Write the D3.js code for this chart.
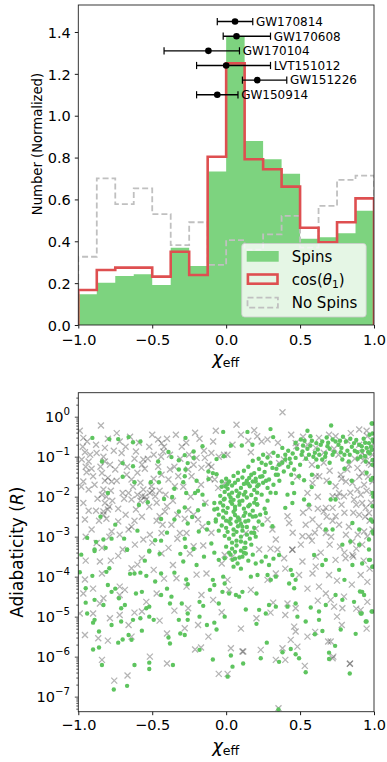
<!DOCTYPE html>
<html>
<head>
<meta charset="utf-8">
<script src="https://cdn.jsdelivr.net/npm/d3@7"></script>
<style>
body{margin:0;background:#fff}
text{font-family:"DejaVu Sans",sans-serif;fill:#000}
</style>
</head>
<body>
<div id="chart"></div>
<script>
// histogram of chi_eff (16 bins)
const binEdges=[-1,-0.875,-0.75,-0.625,-0.5,-0.375,-0.25,-0.125,0,0.125,0.25,0.375,0.5,0.625,0.75,0.875,1]
const spins=[0.147,0.202,0.234,0.242,0.191,0.369,0.282,0.733,1.381,0.879,0.792,0.723,0.412,0.419,0.438,0.546]
const cosTheta=[0.167,0.263,0.274,0.274,0.231,0.350,0.239,0.804,1.250,0.792,0.744,0.661,0.465,0.395,0.491,0.605]
const noSpins=[0.326,0.701,0.578,0.653,0.530,0.382,0.491,0.287,0.406,0.36,0.433,0.521,0.37,0.569,0.693,0.714]

// LIGO events
const events=["GW170814","GW170608","GW170104","LVT151012","GW151226","GW150914"]
const eventChi=[0.06,0.07,-0.12,0.00,0.21,-0.06]
const eventLo=[-0.06,-0.02,-0.42,-0.20,0.11,-0.20]
const eventHi=[0.18,0.30,0.09,0.30,0.41,0.08]
const eventY=[1.45,1.38,1.31,1.24,1.17,1.10]

const xTicks=[-1,-0.5,0,0.5,1]
const histTicks=[0,0.2,0.4,0.6,0.8,1.0,1.2,1.4]
const logTicks=[0,-1,-2,-3,-4,-5,-6,-7]

// scatter: [chi_eff, log10 R]
const spinPts=[
[-0.905,-0.53],[-0.79,-0.56],[-0.73,-0.56],[-0.66,-0.51],[-0.63,-0.64],[-0.58,-0.62],[-0.275,-0.53],[-0.02,-0.38],[-0.16,-0.74],[-0.39,-0.88],[-0.28,-0.96],[-0.22,-0.87],[-0.37,-1.01],[-0.22,-1.03],[-0.46,-1.12],[-0.32,-1.09],[-0.26,-1.16],[-0.84,-1.12],[-0.70,-1.16],[-0.63,-1.24],[-0.065,-1.06],[-0.016,-0.99],[-0.32,-1.32],[-0.275,-1.32],[-0.12,-1.37],[-0.09,-1.41],[-0.065,-1.44],[-0.28,-1.49],[-0.29,-1.64],[-0.62,-1.64],[-0.455,-1.64],[-0.51,-1.64],[-0.12,-1.56],[-0.03,-1.62],[-0.005,-1.74],[-0.80,-1.91],[-0.19,-1.85],[-0.21,-1.91],[-0.16,-1.95],[-0.27,-1.91],[-0.365,-2.01],[-0.42,-2.06],[-0.53,-2.14],[-0.59,-2.21],[-0.28,-2.27],[-0.32,-2.37],[-0.19,-2.34],[-0.08,-2.32],[-0.08,-2.16],[-0.016,-2.07],[-0.44,-2.56],[-0.35,-2.57],[-0.23,-2.51],[-0.12,-2.66],[-0.07,-2.57],[-0.26,-2.67],[-0.13,-2.82],[-0.185,-2.87],[-0.10,-3.17],[-0.94,-3.03],[-0.88,-3.13],[-0.83,-3.07],[-0.775,-3.05],[-0.69,-3.05],[-0.67,-3.32],[-0.89,-3.32],[-0.815,-3.28],[-0.48,-3.09],[-0.44,-3.10],[-0.28,-3.05],[-0.275,-3.26],[-0.52,-3.35],[-0.22,-3.31],
[0.144,-0.38],[0.30,-0.31],[0.55,-0.35],[0.71,-0.22],[0.99,-0.17],[0.032,-0.72],[0.106,-0.72],[0.178,-0.70],[0.318,-0.51],[0.38,-0.78],[0.505,-0.57],[0.57,-0.49],[0.61,-0.66],[0.65,-0.62],[0.685,-0.74],[0.72,-0.57],[0.76,-0.70],[0.81,-0.62],[0.865,-0.66],[0.917,-0.74],[0.966,-0.66],[0.99,-0.57],[0.674,-0.91],[0.72,-0.95],[0.775,-0.89],[0.836,-0.95],[0.888,-0.89],[0.94,-0.99],[0.971,-0.92],[0.56,-0.95],[0.61,-1.07],[0.516,-0.87],[0.47,-1.03],[0.437,-1.16],[0.40,-1.07],[0.358,-1.20],[0.313,-1.28],[0.268,-1.20],[0.223,-1.31],[0.19,-1.41],[0.336,-1.45],[0.39,-1.37],[0.46,-1.32],[0.493,-1.49],[0.527,-1.59],[0.448,-1.66],[0.579,-1.76],[0.29,-1.57],[0.245,-1.49],[0.156,-1.53],[0.133,-1.66],[0.21,-1.74],[0.28,-1.78],[0.336,-1.91],[0.415,-1.95],[0.46,-1.91],[0.448,-2.16],[0.40,-2.28],[0.527,-2.07],[0.56,-2.20],[0.707,-2.07],[0.74,-2.07],[0.674,-2.82],[0.72,-2.82],[0.854,-2.66],[0.9,-2.82],[0.966,-3.07],[0.786,-3.20],[0.84,-3.12],[0.9,-3.20],[0.966,-3.32],[0.122,-3.28],[0.19,-2.91],[0.245,-2.70],[0.20,-2.49],[0.268,-2.41],[0.313,-2.74],[0.21,-2.20],[0.65,-1.07],[0.786,-1.07],[0.944,-1.12],[0.99,-1.20],[0.99,-1.53],[0.99,-1.91],[0.99,-2.24],[0.978,-2.57],[0.99,-2.87],
[0.15,-1.25],[0.18,-1.10],[0.22,-1.05],[0.25,-0.95],[0.28,-1.02],[0.32,-0.90],[0.35,-0.98],[0.30,-1.15],[0.34,-1.30],[0.38,-1.15],[0.42,-0.85],[0.45,-0.92],[0.48,-0.80],[0.52,-0.72],[0.55,-0.80],[0.58,-0.60],[0.62,-0.82],[0.42,-1.25],[0.26,-1.38],[0.20,-1.62],[0.12,-1.35],[0.08,-1.40],[0.24,-1.15],[0.36,-1.60],[0.50,-1.20],[0.54,-1.05],[0.44,-1.45],
[0.63,-0.95],[0.70,-0.80],[0.74,-0.62],[0.78,-0.78],[0.82,-0.85],[0.85,-0.75],[0.88,-0.58],[0.92,-0.85],[0.95,-0.78],[0.97,-0.45],[0.79,-0.50],[0.68,-0.52],[0.60,-0.90],[0.89,-1.05],[0.83,-1.12],[0.93,-0.55],
[0.40,-0.95],[0.43,-1.05],[0.47,-0.65],[0.51,-0.95],[0.53,-0.6],[0.57,-0.72],[0.59,-1.0],[0.64,-0.7],[0.67,-1.0],[0.69,-0.65],[0.73,-0.88],[0.77,-0.6],[0.8,-0.95],[0.84,-0.55],[0.87,-0.85],[0.9,-0.7],[0.91,-1.0],[0.94,-0.65],[0.96,-0.88],[0.98,-0.75],[0.62,-1.25],[0.7,-1.15],[0.8,-1.3],[0.95,-1.4],[0.85,-1.6],[0.7,-1.65],[0.58,-1.45],
[-0.89,-3.36],[-0.67,-3.33],[-0.52,-3.37],[-0.45,-3.43],[-0.31,-3.43],[-0.29,-3.62],[-0.20,-3.71],[-0.08,-3.40],[-0.05,-3.58],[-0.01,-3.54],[-0.905,-3.98],[-0.99,-3.89],[-0.81,-3.88],[-0.79,-3.79],[-0.65,-3.93],[-0.62,-3.92],[-0.58,-3.90],[-0.54,-3.98],[-0.48,-4.12],[-0.44,-3.92],[-0.27,-4.07],[-0.26,-4.19],[-0.09,-4.08],[-0.02,-4.0],[-0.01,-4.17],[-0.08,-4.21],[-0.11,-4.33],[-0.025,-4.38],[-0.95,-4.29],[-0.80,-4.21],[-0.775,-4.38],[-0.61,-4.42],[-0.57,-4.38],[-0.44,-4.46],[-0.37,-4.50],[-0.95,-4.65],[-0.89,-4.58],[-0.83,-4.71],[-0.725,-4.54],[-0.71,-4.79],[-0.685,-4.71],[-0.54,-4.79],[-0.52,-4.75],[-0.38,-4.67],[-0.30,-4.67],[-0.18,-4.63],[-0.155,-4.73],[-0.05,-4.67],[-0.94,-4.92],[-0.89,-5.08],[-0.90,-5.15],[-0.775,-5.21],[-0.71,-5.12],[-0.63,-5.08],[-0.58,-5.04],[-0.52,-5.0],[-0.49,-5.08],[-0.32,-5.08],[-0.26,-4.92],[-0.26,-5.08],[-0.18,-5.0],[-0.13,-5.21],[-0.08,-5.15],[-0.065,-5.32],[-0.01,-5.0],[-0.86,-5.37],[-0.70,-5.57],[-0.66,-5.46],[-0.64,-5.58],[-0.57,-5.35],[-0.39,-5.52],[-0.38,-5.67],[-0.31,-5.42],[-0.28,-5.46],[-0.18,-5.83],[-0.73,-5.65],[-0.90,-5.82],[-0.86,-5.77],[-0.84,-6.21],[-0.62,-6.21],[-0.52,-6.31],[-0.52,-6.15],[-0.36,-6.21],[-0.09,-6.07],[-0.76,-6.82],[-0.67,-6.73],[0.01,-6.5],
[-0.98,-3.45],[-0.75,-2.7],[-0.6,-2.85],[-0.4,-2.9],[-0.35,-1.8],[-0.15,-2.2],[-0.05,-2.85],[-0.2,-1.6],[-0.45,-1.4],[-0.7,-1.5],[-0.85,-2.5],[-0.55,-3.6],[-0.35,-3.9],[-0.15,-3.5],[-0.75,-4.3],[-0.4,-4.3],
[0.043,-3.58],[0.077,-3.67],[0.11,-3.50],[0.133,-3.42],[0.20,-3.67],[0.268,-3.50],[0.29,-3.71],[0.358,-3.46],[0.437,-3.83],[0.448,-3.96],[0.47,-4.08],[0.426,-4.17],[0.46,-4.29],[0.595,-3.46],[0.65,-3.71],[0.674,-3.58],[0.764,-3.83],[0.80,-4.08],[0.854,-3.71],[0.92,-3.67],[0.966,-3.58],[0.99,-3.75],[0.167,-4.0],[0.212,-3.96],[0.28,-3.96],[0.302,-4.08],[0.336,-4.0],[0.02,-4.42],[0.066,-4.46],[0.088,-4.50],[0.11,-4.38],[0.205,-4.42],[0.133,-4.82],[0.223,-4.83],[0.268,-4.92],[0.29,-4.71],[0.336,-4.75],[0.415,-4.75],[0.47,-4.67],[0.572,-4.77],[0.628,-4.87],[0.674,-4.71],[0.74,-4.46],[0.786,-4.58],[0.865,-4.63],[0.92,-4.38],[0.933,-4.46],[0.99,-4.87],[0.91,-4.92],[0.205,-5.18],[0.482,-5.0],[0.538,-5.12],[0.628,-5.08],[0.651,-5.36],[0.60,-5.44],[0.775,-5.32],[0.876,-5.43],[0.944,-5.12],[0.275,-5.65],[0.437,-5.81],[0.47,-5.94],[0.493,-6.04],[0.381,-5.89],[0.234,-6.04],[0.032,-5.97],[0.043,-6.25],[0.115,-6.17],[0.358,-6.13],[0.538,-6.39],[0.696,-5.90],[0.696,-6.06],[0.737,-5.73],[0.836,-6.42],[0.354,-7.32],
[0.00,-1.55],[0.02,-1.62],[0.05,-1.48],[0.08,-1.58],[0.11,-1.52],[0.14,-1.60],[0.17,-1.45],[0.20,-1.55],[0.23,-1.50],[-0.03,-1.75],[0.01,-1.80],[0.04,-1.72],[0.07,-1.85],[0.10,-1.78],[0.13,-1.88],[0.16,-1.74],[0.19,-1.83],[0.22,-1.70],[-0.04,-1.98],[-0.01,-2.05],[0.02,-1.95],[0.05,-2.08],[0.08,-1.99],[0.11,-2.10],[0.14,-2.02],[0.17,-1.96],[0.20,-2.06],[-0.02,-2.22],[0.01,-2.28],[0.04,-2.18],[0.06,-2.32],[0.09,-2.20],[0.12,-2.30],[0.15,-2.24],[0.18,-2.35],[0.21,-2.19],[-0.05,-2.45],[-0.02,-2.52],[0.00,-2.40],[0.03,-2.55],[0.06,-2.46],[0.09,-2.58],[0.12,-2.48],[0.15,-2.60],[0.18,-2.50],[-0.03,-2.72],[0.00,-2.78],[0.03,-2.68],[0.05,-2.82],[0.08,-2.74],[0.11,-2.85],[0.14,-2.76],[0.17,-2.90],[-0.01,-2.98],[0.02,-3.05],[0.05,-2.95],[0.07,-3.10],[0.10,-3.00],[0.13,-3.15],[0.16,-3.05],[0.00,-3.25],[0.04,-3.30],[0.07,-3.22],[0.10,-3.35],[0.13,-3.28],[0.03,-3.45],[0.09,-3.52],[0.06,-1.65],[0.09,-1.92],[0.03,-2.12],[0.13,-2.40],[0.07,-2.62],[0.01,-2.88],[0.10,-2.68],[0.16,-2.20],[-0.06,-2.30],[0.24,-1.95],[0.26,-2.30],[0.22,-2.62],[0.25,-1.65],[0.19,-2.78],[-0.07,-2.62],[0.12,-1.68],[0.04,-1.90],
[0.01,-1.68],[0.03,-2.02],[0.06,-2.25],[0.08,-2.52],[0.11,-2.75],[0.14,-2.95],[0.02,-2.62],[0.05,-2.38],[0.09,-2.12],[0.12,-1.95],[0.15,-1.68],[0.18,-1.62],[0.21,-1.90],[0.19,-2.15],[0.16,-2.45],[0.13,-2.62],[0.10,-3.12],[0.04,-3.15],[-0.02,-2.35],[-0.04,-2.15],[-0.01,-1.88],[0.00,-2.6],[0.07,-2.88],[0.12,-3.4],[0.06,-3.38],[0.17,-3.2],[0.2,-3.0],[0.23,-2.45],[0.28,-2.1],[0.3,-1.9],[0.27,-1.6],[0.32,-1.7],[0.35,-1.45],
[0.02,-3.40],[0.06,-3.55],[0.15,-3.60],[0.18,-3.45],[0.24,-3.62],[0.32,-3.55],[0.10,-3.80],[0.05,-3.75],
[0.984,-0.17],[0.99,-0.42],[0.995,-0.62],[0.984,-0.83],[0.99,-1.08],[0.978,-1.58],[0.995,-2.0],[0.99,-2.62],[0.995,-2.92],[0.973,-3.58],[0.99,-3.75],[0.984,-4.87],[0.95,-5.12],[0.916,-4.92],[0.905,-4.37]
]
const noSpinPts=[
[-0.847,-0.22],[-0.966,-0.53],[-0.74,-0.41],[-0.72,-0.62],[-0.82,-0.78],[-0.876,-0.91],[-0.955,-0.89],[-0.977,-1.07],[-0.93,-1.12],[-0.82,-1.12],[-0.786,-1.20],[-0.707,-0.91],[-0.75,-1.32],[-0.84,-1.41],[-0.90,-1.49],[-0.966,-1.62],[-0.944,-1.39],[-0.80,-1.53],[-0.775,-1.62],[-0.83,-1.82],[-0.84,-1.95],[-0.82,-2.16],[-0.83,-2.37],[-0.80,-2.32],[-0.966,-2.16],[-0.93,-1.82],[-0.955,-2.57],[-0.91,-2.82],[-0.876,-3.16],[-0.70,-1.91],[-0.66,-1.91],[-0.64,-2.07],[-0.61,-2.32],[-0.57,-1.99],[-0.56,-1.82],[-0.516,-1.91],[-0.48,-1.99],[-0.54,-2.07],[-0.505,-1.74],[-0.46,-0.57],[-0.437,-0.66],[-0.426,-0.87],[-0.49,-0.95],[-0.56,-1.07],[-0.57,-1.20],[-0.61,-0.87],[-0.673,-1.45],[-0.64,-1.57],[-0.437,-1.45],[-0.38,-1.32],[-0.39,-1.57],[-0.347,-1.74],[-0.324,-1.49],[-0.414,-2.37],[-0.40,-2.24],[-0.45,-2.49],[-0.37,-2.70],[-0.437,-2.91],[-0.516,-2.95],[-0.56,-3.07],[-0.617,-3.20],[-0.66,-2.82],[-0.73,-2.62],[-0.775,-2.87],[-0.22,-2.45],[-0.19,-2.57],[-0.257,-2.32],[-0.234,-1.49],[-0.167,-1.28],[-0.12,-1.20],[-0.10,-0.91],[-0.088,-0.62],[-0.144,-1.03],[-0.257,-1.32],[-0.20,-1.03],[-0.077,-1.57],[-0.054,-1.78],[-0.014,-0.95],[-0.009,-1.66],[-0.313,-2.91],[-0.268,-2.91],[-0.155,-3.22],[-0.22,-3.24],[-0.70,-3.32],[-0.84,-3.28],[-0.39,-3.28],
[-0.82,-1.6],[-0.81,-2.0],[-0.79,-2.25],[-0.83,-2.45],[-0.60,-1.95],[-0.55,-2.0],[-0.50,-1.85],[-0.58,-2.1],[-0.95,-1.25],[-0.98,-1.75],[-0.92,-0.95],[-0.88,-0.7],[-0.68,-0.75],[-0.62,-1.05],[-0.52,-0.75],[-0.44,-1.0],[-0.40,-0.55],[-0.35,-1.25],[-0.30,-0.75],[-0.25,-0.95],[-0.18,-0.55],[-0.10,-1.25],[-0.05,-1.0],
[-0.99,-0.35],[-0.97,-0.75],[-0.94,-0.62],[-0.91,-1.3],[-0.89,-1.7],[-0.87,-2.05],[-0.86,-2.6],[-0.85,-1.25],[-0.83,-1.0],[-0.81,-2.55],[-0.80,-0.55],[-0.78,-1.85],[-0.77,-2.1],[-0.76,-0.85],[-0.74,-1.6],[-0.73,-2.3],[-0.71,-1.15],[-0.69,-2.05],[-0.68,-2.45],[-0.67,-1.25],[-0.65,-0.5],[-0.63,-1.75],[-0.62,-2.6],[-0.60,-1.4],[-0.59,-0.65],[-0.58,-1.65],[-0.57,-2.5],[-0.55,-1.3],[-0.53,-1.05],[-0.52,-2.25],[-0.50,-0.45],[-0.49,-1.55],[-0.47,-2.15],[-0.46,-1.25],[-0.45,-1.85],[-0.43,-2.7],[-0.42,-0.75],[-0.41,-1.95],[-0.38,-0.95],[-0.36,-2.1],[-0.34,-0.45],[-0.33,-2.45],[-0.31,-1.05],[-0.29,-1.75],[-0.27,-0.65],[-0.24,-2.0],[-0.22,-1.2],[-0.21,-0.4],[-0.17,-1.7],[-0.15,-0.85],[-0.14,-2.15],[-0.11,-1.55],[-0.07,-0.35],[-0.93,-2.35],[-0.95,-3.0],[-0.88,-2.35],[-0.79,-3.0],[-0.72,-2.95],[-0.64,-2.75],[-0.5,-3.15],[-0.47,-2.6],[-0.33,-3.05],[-0.28,-2.55],[-0.16,-2.75],[-0.1,-2.9],[-0.95,-3.6],[-0.78,-3.6],[-0.6,-3.7],[-0.42,-4.05],[-0.2,-3.95],[-0.9,-4.3],[-0.62,-4.9],[-0.35,-4.85],[-0.12,-5.5],[-0.8,-5.6],[-0.45,-5.1],
[0.381,0.11],[0.07,-0.20],[0.19,-0.34],[0.21,-0.49],[0.28,-0.57],[0.24,-0.62],[0.043,-0.70],[0.009,-0.95],[0.167,-0.89],[0.29,-0.95],[0.47,-0.66],[0.475,-0.74],[0.358,-1.16],[0.39,-1.07],[0.538,-1.03],[0.606,-0.78],[0.628,-0.53],[0.696,-0.45],[0.74,-0.49],[0.843,-0.41],[0.90,-0.32],[0.955,-0.49],[0.92,-0.91],[0.944,-0.99],[0.966,-1.16],[0.888,-1.28],[0.82,-1.32],[0.775,-1.45],[0.81,-1.62],[0.854,-1.66],[0.888,-1.82],[0.865,-2.07],[0.92,-2.16],[0.944,-2.28],[0.966,-2.41],[0.90,-2.45],[0.933,-2.87],[0.955,-2.99],[0.854,-3.12],[0.81,-2.95],[0.764,-2.70],[0.74,-2.49],[0.72,-2.28],[0.674,-2.28],[0.66,-2.37],[0.606,-1.49],[0.63,-1.49],[0.584,-1.66],[0.55,-1.91],[0.56,-2.28],[0.584,-2.57],[0.538,-2.70],[0.628,-2.74],[0.516,-2.99],[0.56,-2.99],[0.505,-3.20],[0.415,-2.49],[0.426,-2.66],[0.313,-2.82],[0.336,-3.07],[0.28,-2.57],[0.347,-3.32],[0.448,-3.32],[0.674,-2.91],[0.72,-1.99],[0.764,-1.91],[0.797,-1.99],[0.74,-1.74],[0.223,-3.32],[0.133,-2.91],[0.088,-2.57],[0.933,-1.70],[0.99,-1.91],[0.99,-1.62],[0.978,-0.74],[0.99,-2.82],[0.92,-1.41],
[0.62,-2.0],[0.68,-1.6],[0.72,-2.6],[0.78,-2.2],[0.83,-1.2],[0.86,-2.4],[0.9,-1.5],[0.95,-1.85],[0.97,-2.6],[0.88,-3.3],[0.93,-3.6],[0.58,-3.1],[0.52,-2.4],[0.48,-1.5],[0.55,-0.7],[0.66,-1.15],[0.76,-0.95],[0.98,-1.2],[0.8,-3.4],[0.7,-3.2],
[0.52,-0.5],[0.58,-1.2],[0.62,-2.3],[0.64,-3.4],[0.66,-0.9],[0.68,-2.5],[0.70,-1.35],[0.71,-3.0],[0.73,-0.8],[0.75,-2.0],[0.77,-3.25],[0.78,-1.55],[0.80,-2.4],[0.82,-0.6],[0.83,-2.75],[0.84,-1.9],[0.86,-3.5],[0.87,-1.05],[0.88,-2.2],[0.89,-2.95],[0.90,-0.7],[0.91,-1.95],[0.92,-3.2],[0.93,-1.1],[0.94,-2.5],[0.95,-0.35],[0.96,-1.5],[0.97,-3.8],[0.98,-2.15],[0.99,-0.95],[0.85,-4.2],[0.75,-4.1],[0.62,-4.6],[0.88,-4.8],[0.95,-5.3],[0.6,-2.9],[0.55,-4.3],[0.45,-2.9],[0.4,-3.8],[0.3,-3.3],[0.2,-2.8],[0.35,-0.65],[0.15,-0.6],[0.1,-0.45],[0.44,-0.45],[0.3,-4.9],[0.1,-5.3],[0.55,-5.5],[0.75,-5.0],
[-0.854,-3.62],[-0.84,-3.92],[-0.955,-4.07],[-0.73,-3.48],[-0.72,-4.25],[-0.72,-4.46],[-0.685,-4.33],[-0.854,-4.67],[-0.83,-4.54],[-0.90,-4.92],[-0.786,-5.04],[-0.72,-4.96],[-0.66,-5.21],[-0.64,-5.50],[-0.57,-4.87],[-0.54,-4.63],[-0.47,-4.42],[-0.64,-3.79],[-0.57,-3.54],[-0.49,-3.83],[-0.437,-3.42],[-0.36,-3.71],[-0.336,-4.04],[-0.268,-4.25],[-0.245,-3.42],[-0.167,-4.46],[-0.133,-3.92],[-0.088,-4.58],[-0.03,-4.89],[-0.28,-5.29],[-0.257,-4.79],[-0.40,-5.42],[-0.865,-5.54],[-0.955,-5.46],[-0.21,-5.82],[-0.17,-5.77],[-0.84,-6.08],[-0.516,-6.0],[-0.40,-6.17],[-0.757,-6.60],[-0.667,-6.47],[-0.01,-3.46],[-0.03,-3.67],[-0.19,-5.21],[-0.966,-4.42],[-0.99,-4.92],
[0.043,-3.50],[0.009,-4.08],[0.02,-4.33],[0.167,-4.33],[0.28,-4.08],[0.336,-3.92],[0.392,-3.54],[0.448,-3.33],[0.516,-3.62],[0.584,-3.92],[0.493,-3.96],[0.606,-3.75],[0.696,-3.96],[0.628,-4.25],[0.674,-4.42],[0.707,-4.58],[0.73,-4.75],[0.797,-4.50],[0.786,-4.79],[0.854,-3.46],[0.91,-3.96],[0.955,-4.63],[0.91,-4.83],[0.955,-4.13],[0.74,-3.58],[0.808,-3.54],[0.318,-4.65],[0.415,-4.67],[0.47,-4.79],[0.40,-4.96],[0.205,-5.04],[0.46,-5.25],[0.47,-5.37],[0.437,-5.58],[0.482,-5.75],[0.381,-5.79],[0.234,-5.83],[0.11,-5.87],[0.032,-5.79],[0.336,-6.08],[0.532,-6.23],[0.602,-5.38],[0.707,-5.62],[0.72,-6.04],[0.782,-5.21],[0.836,-6.18],[0.606,-3.50],[0.354,-7.29],
[-0.05,-6.43],[0.01,-6.43],[0.116,-5.87],[0.40,-6.08],[0.838,-6.17],[0.725,-6.0],[0.69,-5.62]
]

const W=387,H=762
const left=78.3,right=374
const top1=5,bot1=325
const top2=392.7,bot2=711.7

const green="#7dd37f"
const red="#de4f50"
const dotGreen="#5ec45f"

const svg=d3.select("#chart").append("svg").attr("width",W).attr("height",H)

const x1=d3.scaleLinear().domain([-1,1]).range([left,right])
const y1=d3.scaleLinear().domain([0,1.529]).range([bot1,top1])
const x2=d3.scaleLinear().domain([-1,1]).range([left,right])
const y2=d3.scaleLog().domain([4.2e-8,3.98]).range([bot2,top2])

const defs=svg.append("defs")
defs.append("clipPath").attr("id","clip1").append("rect")
.attr("x",left).attr("y",top1).attr("width",right-left).attr("height",bot1-top1)
defs.append("clipPath").attr("id","clip2").append("rect")
.attr("x",left).attr("y",top2).attr("width",right-left).attr("height",bot2-top2)

// ---------- top panel ----------
const g1=svg.append("g")
const plot1=g1.append("g").attr("clip-path","url(#clip1)")

function stepPoints(vals){
let pts=[[binEdges[0],0]]
binEdges.forEach((e,i)=>pts.push([e,vals[Math.min(i,vals.length-1)]]))
pts.push([binEdges[binEdges.length-1],0])
return pts
}

const area=d3.area().curve(d3.curveStepAfter)
.x(d=>x1(d[0])).y0(y1(0)).y1(d=>y1(d[1]))
const line=d3.line().curve(d3.curveStepAfter)
.x(d=>x1(d[0])).y(d=>y1(d[1]))

plot1.append("path").attr("d",area(stepPoints(spins))).attr("fill",green)

plot1.append("path").attr("d",line(stepPoints(noSpins)))
.attr("fill","none").attr("stroke","#c0c0c0").attr("stroke-width",1.8)
.attr("stroke-dasharray","6,3")

plot1.append("path").attr("d",line(stepPoints(cosTheta)))
.attr("fill","none").attr("stroke",red).attr("stroke-width",2.6)

// error bars
const eb=g1.append("g")
events.forEach((name,i)=>{
const y=y1(eventY[i])
eb.append("line").attr("x1",x1(eventLo[i])).attr("x2",x1(eventHi[i]))
.attr("y1",y).attr("y2",y).attr("stroke","#000").attr("stroke-width",1.4)
;[eventLo[i],eventHi[i]].forEach(v=>{
eb.append("line").attr("x1",x1(v)).attr("x2",x1(v))
.attr("y1",y-3.6).attr("y2",y+3.6).attr("stroke","#000").attr("stroke-width",1.2)
})
eb.append("circle").attr("cx",x1(eventChi[i])).attr("cy",y).attr("r",3.3).attr("fill","#000")
eb.append("text").attr("x",x1(eventHi[i])+3.2).attr("y",y).attr("dy","0.36em")
.attr("font-size",12).text(name)
})

// legend
const lg=g1.append("g")
lg.append("rect").attr("x",241.7).attr("y",243.5).attr("width",124.5).attr("height",73.5)
.attr("rx",3).attr("fill","#fff").attr("fill-opacity",0.8)
.attr("stroke","#ccc").attr("stroke-opacity",0.8).attr("stroke-width",1)
lg.append("rect").attr("x",246.7).attr("y",251).attr("width",32).attr("height",10.7).attr("fill",green)
lg.append("rect").attr("x",247.9).attr("y",274.5).attr("width",29.6).attr("height",9.2)
.attr("fill","none").attr("stroke",red).attr("stroke-width",2.6)
lg.append("rect").attr("x",247.5).attr("y",297.7).attr("width",30.4).attr("height",9.9)
.attr("fill","none").attr("stroke","#c0c0c0").attr("stroke-width",1.8).attr("stroke-dasharray","6,3")
lg.append("text").attr("x",291.7).attr("y",261.7).attr("font-size",15).text("Spins")
const cosT=lg.append("text").attr("x",291.7).attr("y",284.9).attr("font-size",15)
cosT.append("tspan").text("cos(")
cosT.append("tspan").attr("font-style","italic").text("θ")
cosT.append("tspan").attr("font-size",10.5).attr("dy",3).text("1")
cosT.append("tspan").attr("dy",-3).text(")")
lg.append("text").attr("x",291.7).attr("y",308).attr("font-size",15).text("No Spins")

// axes top
const ax1=g1.append("g").attr("transform",`translate(0,${bot1})`)
.call(d3.axisBottom(x1).tickValues(xTicks).tickSize(3.5).tickPadding(6).tickFormat(d3.format(".1f")))
const ay1=g1.append("g").attr("transform",`translate(${left},0)`)
.call(d3.axisLeft(y1).tickValues(histTicks).tickSize(3.5).tickPadding(4).tickFormat(d3.format(".1f")))
;[ax1,ay1].forEach(a=>{
a.select(".domain").remove()
a.selectAll("text").attr("font-size",14.5).attr("font-family","DejaVu Sans").attr("fill","#000")
a.selectAll("line").attr("stroke","#000").attr("stroke-width",0.9)
})
ay1.selectAll("text").attr("dy","0.36em")
g1.append("rect").attr("x",left).attr("y",top1).attr("width",right-left).attr("height",bot1-top1)
.attr("fill","none").attr("stroke","#222").attr("stroke-width",0.9)

function chiLabel(g,y){
const t=g.append("text").attr("x",(left+right)/2-14).attr("y",y)
t.append("tspan").attr("font-style","italic").attr("font-size",18).text("χ")
t.append("tspan").attr("font-size",12.6).attr("dy",3).text("eff")
}
chiLabel(g1,364)

g1.append("text").attr("transform",`translate(41.5,144) rotate(-90)`)
.attr("text-anchor","middle").attr("font-size",13.2).text("Number (Normalized)")

// ---------- bottom panel ----------
const g2=svg.append("g")
const plot2=g2.append("g").attr("clip-path","url(#clip2)")

plot2.selectAll("path.nos").data(noSpinPts).join("path").attr("class","nos")
.attr("d",d=>{
const cx=x2(d[0]),cy=y2(10**d[1]),s=3
return `M${cx-s},${cy-s}L${cx+s},${cy+s}M${cx-s},${cy+s}L${cx+s},${cy-s}`
})
.attr("stroke","#222").attr("stroke-opacity",0.34).attr("stroke-width",1.3).attr("fill","none")

plot2.selectAll("circle").data(spinPts).join("circle")
.attr("cx",d=>x2(d[0])).attr("cy",d=>y2(10**d[1])).attr("r",2.2).attr("fill",dotGreen)

const ax2=g2.append("g").attr("transform",`translate(0,${bot2})`)
.call(d3.axisBottom(x2).tickValues(xTicks).tickSize(3.5).tickPadding(4.5).tickFormat(d3.format(".1f")))
ax2.select(".domain").remove()
ax2.selectAll("text").attr("font-size",14.5).attr("font-family","DejaVu Sans").attr("fill","#000")
ax2.selectAll("line").attr("stroke","#000").attr("stroke-width",0.9)

const minorVals=[]
for(let k=-8;k<=0;k++){for(let m=2;m<=9;m++){const v=m*10**k;if(v>4.2e-8&&v<3.98)minorVals.push(v)}}
const ayMinor=g2.append("g").attr("transform",`translate(${left},0)`)
.call(d3.axisLeft(y2).tickValues(minorVals).tickSize(2).tickFormat(""))
const ay2=g2.append("g").attr("transform",`translate(${left},0)`)
.call(d3.axisLeft(y2).tickValues(logTicks.map(e=>10**e)).tickSize(3.5).tickFormat(""))
;[ayMinor,ay2].forEach(a=>{
a.select(".domain").remove()
a.selectAll("line").attr("stroke","#000").attr("stroke-width",0.7)
})

logTicks.forEach(e=>{
const y=y2(10**e)
const t=g2.append("text").attr("x",70).attr("y",y+5.2).attr("text-anchor","end").attr("font-size",14.5)
t.append("tspan").text("10")
t.append("tspan").attr("font-size",10.2).attr("dy",-7).text(e===0?"0":"−"+(-e))
})

g2.append("rect").attr("x",left).attr("y",top2).attr("width",right-left).attr("height",bot2-top2)
.attr("fill","none").attr("stroke","#222").attr("stroke-width",0.9)

chiLabel(g2,752)

const ylab=g2.append("text").attr("transform",`translate(23,${(top2+bot2)/2}) rotate(-90)`)
.attr("text-anchor","middle").attr("font-size",17)
ylab.append("tspan").text("Adiabaticity (")
ylab.append("tspan").attr("font-style","italic").text("R")
ylab.append("tspan").text(")")
</script>
</body>
</html>
